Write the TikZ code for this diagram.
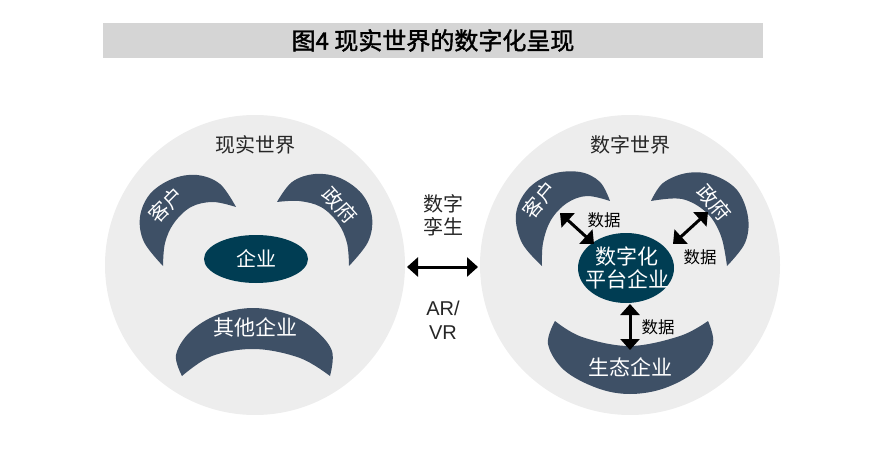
\documentclass[tikz,border=0pt]{standalone}
\usepackage{fontspec}
\setmainfont{Liberation Sans}
\newfontfamily\cjk{Noto Sans CJK SC}
\newfontfamily\cjkb[FakeBold=1.6]{Noto Sans CJK SC}
\usetikzlibrary{arrows.meta}
\definecolor{bargray}{HTML}{D5D5D5}
\definecolor{circgray}{HTML}{EDEDED}
\definecolor{slate}{HTML}{3E5066}
\definecolor{teal}{HTML}{003D53}
\definecolor{txt}{HTML}{262626}
\tikzset{
  world/.style={fill=circgray, draw=none},
  moon/.style={fill=slate, draw=none},
  core/.style={fill=teal, draw=none},
  wtext/.style={text=white, font=\cjk\fontsize{20}{23}\selectfont, inner sep=0pt, align=center},
  dtext/.style={text=txt, font=\cjk\fontsize{20}{23}\selectfont, inner sep=0pt, align=center},
  datatext/.style={text=black, font=\cjk\fontsize{16.5}{19}\selectfont, inner sep=0pt},
  dblarrow/.style={line width=3pt, {Triangle[width=19pt,length=11pt]}-{Triangle[width=19pt,length=11pt]}},
}
\begin{document}
\begin{tikzpicture}[x=1pt,y=-1pt]
\useasboundingbox (0,0) rectangle (875,449);
% title bar
\fill[bargray] (103,23) rectangle (763,58);
\node[text=black, font=\cjkb\fontsize{24}{26}\selectfont, inner sep=0pt] (title) at (433,40.5) {图4 现实世界的数字化呈现};

% ---------- left world ----------
\fill[world] (255,265) circle[radius=150];
\node[dtext] (realw) at (255,145) {现实世界};
% 客户 crescent
\fill[moon] plot[smooth, tension=0.6] coordinates {(163,266) (144,242) (140,217) (150,194) (172,179) (197,175) (220,184) (236,207)}
  -- plot[smooth, tension=0.6] coordinates {(236,207) (213,202) (191,207) (174,223) (165,243) (163,266)} -- cycle;
% 政府 crescent
\fill[moon] plot[smooth, tension=0.6] coordinates {(277,202) (292,182) (315,174) (340,178) (362,194) (372,217) (368,242) (349,266)}
  -- plot[smooth, tension=0.6] coordinates {(349,266) (347,243) (338,223) (321,207) (299,201) (277,202)} -- cycle;
% 其他企业 crescent
\fill[moon] plot[smooth, tension=0.6] coordinates {(182,376) (176,355) (190,332) (217,315) (252,308) (287,314) (314,329) (332,351) (330,376)}
  -- plot[smooth, tension=0.6] coordinates {(330,376) (300,358) (255,349) (212,356) (182,376)} -- cycle;
\fill[core] (256,259) ellipse[x radius=52, y radius=24];
\node[wtext] (entL) at (256,259) {企业};
\node[wtext, rotate=45] (custL) at (166,205) {客户};
\node[wtext, rotate=-48] (govL) at (340,205) {政府};
\node[wtext, font=\cjk\fontsize{21}{23}\selectfont] (otherL) at (255,327) {其他企业};

% ---------- middle ----------
\node[dtext] (twin) at (443,215) {数字\\孪生};
\coordinate (mA) at (407,267);
\coordinate (mB) at (478,267);
\draw[dblarrow] (mA) -- (mB);
\node[text=txt, font=\fontsize{20}{24}\selectfont, inner sep=0pt, align=center] (arvr) at (443,320) {AR/\\VR};

% ---------- right world ----------
\fill[world] (630,265) circle[radius=150];
\node[dtext] (digw) at (630,145) {数字世界};
% 客户 crescent
\fill[moon] plot[smooth, tension=0.6] coordinates {(542,266) (522,243) (516,214) (528,189) (552,174) (580,172) (600,182) (610,201)}
  -- plot[smooth, tension=0.6] coordinates {(610,201) (587,196) (567,203) (551,220) (543,243) (542,266)} -- cycle;
% 政府 crescent
\fill[moon] plot[smooth, tension=0.6] coordinates {(651,201) (663,183) (687,173) (713,175) (737,190) (748,217) (745,243) (727,266)}
  -- plot[smooth, tension=0.6] coordinates {(727,266) (721,236) (707,213) (682,199) (651,201)} -- cycle;
% 生态企业 crescent
\fill[moon] plot[smooth, tension=0.6] coordinates {(555,321) (548,344) (564,370) (597,388) (630,394) (665,388) (697,370) (713,344) (708,321)}
  -- plot[smooth, tension=0.6] coordinates {(708,321) (680,336) (630,346) (582,337) (555,321)} -- cycle;
\fill[core] (626,268) ellipse[x radius=48, y radius=35];
\node[wtext, font=\cjk\fontsize{21}{23}\selectfont] (platR) at (627,268) {数字化\\平台企业};
\node[wtext, rotate=50] (custR) at (540,200) {客户};
\node[wtext, rotate=-50] (govR) at (714,203) {政府};
\node[wtext, font=\cjk\fontsize{21}{23}\selectfont] (ecoR) at (630,367) {生态企业};
% arrows
\coordinate (c1) at (560,213);
\coordinate (c2) at (594,244);
\draw[dblarrow] (c1) -- (c2);
\coordinate (g1) at (708,212);
\coordinate (g2) at (673,244);
\draw[dblarrow] (g1) -- (g2);
\coordinate (e1) at (630,304);
\coordinate (e2) at (630,350);
\draw[dblarrow] (e1) -- (e2);
\node[datatext] (d1) at (604,220) {数据};
\node[datatext] (d2) at (700,257) {数据};
\node[datatext] (d3) at (658,327) {数据};
\end{tikzpicture}
\end{document}
